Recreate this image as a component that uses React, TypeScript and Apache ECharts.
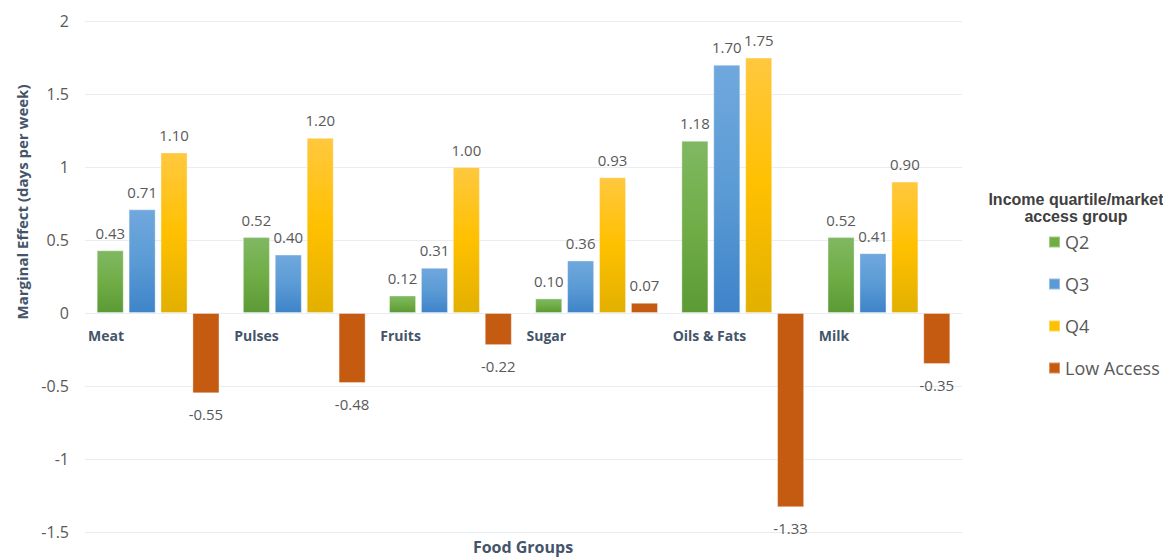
import React, { useEffect, useRef } from "react";
import * as echarts from "echarts";

const categories = ["Meat", "Pulses", "Fruits", "Sugar", "Oils & Fats", "Milk"];
const q2 = [0.43, 0.52, 0.12, 0.1, 1.18, 0.52];
const q3 = [0.71, 0.4, 0.31, 0.36, 1.7, 0.41];
const q4 = [1.1, 1.2, 1.0, 0.93, 1.75, 0.9];
const lowAccess = [-0.55, -0.48, -0.22, 0.07, -1.33, -0.35];

const seriesNames = ["Q2", "Q3", "Q4", "Low Access"];
const yMin = -1.5;
const yMax = 2;
const yStep = 0.5;

const FONT = "'Open Sans', 'Noto Sans', sans-serif";
const TITLE_COLOR = "#44546a";
const TEXT_COLOR = "#595959";

const grad = (top: string, mid: string, bottom: string) =>
  new echarts.graphic.LinearGradient(0, 0, 0, 1, [
    { offset: 0, color: top },
    { offset: 0.5, color: mid },
    { offset: 1, color: bottom },
  ]);

export default function App() {
  const ref = useRef<HTMLDivElement>(null);

  useEffect(() => {
    if (!ref.current) return;
    const chart = echarts.init(ref.current, undefined, { renderer: "svg" });

    const fills = [
      { fill: grad("#80b862", "#70ad47", "#5c9a36"), legend: "#70ad47" },
      { fill: grad("#70a8dd", "#5b9bd5", "#3f84c9"), legend: "#5b9bd5" },
      { fill: grad("#ffc83f", "#ffc000", "#e2b000"), legend: "#ffc000" },
      { fill: "#c55a11", legend: "#c55a11" },
    ];
    const groups = [q2, q3, q4, lowAccess];

    const series = groups.map((vals, si) => ({
      name: seriesNames[si],
      type: "bar",
      barGap: "18%",
      barCategoryGap: "16%",
      itemStyle: { color: fills[si].fill, borderColor: "rgba(255,255,255,0.35)", borderWidth: 1 },
      label: {
        show: true,
        fontFamily: FONT,
        fontSize: 15,
        color: TEXT_COLOR,
        formatter: (p: any) => Number(p.value).toFixed(2),
      },
      data: vals.map((v) => ({
        value: v,
        label: v < 0 ? { position: "bottom", distance: 13 } : { position: "top", distance: 10 },
      })),
    }));

    chart.setOption({
      animation: false,
      backgroundColor: "#ffffff",
      color: fills.map((f) => f.legend),
      grid: { left: 85, right: 201, top: 21, bottom: 27 },
      title: [
        {
          text: "Food Groups",
          left: 523,
          top: 538,
          textAlign: "center",
          textStyle: {
            fontFamily: FONT,
            fontSize: 16,
            fontWeight: "bold",
            color: TITLE_COLOR,
            lineHeight: 18,
          },
          padding: 0,
        },
        {
          text: "Income quartile/market\naccess group",
          left: 1071,
          top: 186,
          textAlign: "center",
          textStyle: {
            fontFamily: "'Liberation Sans', Arial, sans-serif",
            fontSize: 16,
            fontWeight: "bold",
            color: "#404040",
            lineHeight: 17,
          },
        },
      ],
      legend: {
        orient: "vertical",
        left: 1043,
        top: 226,
        itemGap: 20,
        itemWidth: 11,
        itemHeight: 11,
        icon: "rect",
        textStyle: { fontFamily: FONT, fontSize: 18, color: TEXT_COLOR, lineHeight: 22 },
        data: seriesNames.map((n, i) => ({ name: n, itemStyle: { color: fills[i].legend } })),
      },
      xAxis: {
        type: "category",
        data: categories,
        axisLine: { show: false },
        axisTick: { show: false },
        axisLabel: { show: false },
      },
      yAxis: {
        type: "value",
        min: yMin,
        max: yMax,
        interval: yStep,
        axisLine: { show: false },
        axisTick: { show: false },
        axisLabel: {
          fontFamily: FONT,
          fontSize: 16,
          color: TEXT_COLOR,
          margin: 16,
          formatter: (v: number) => String(v),
        },
        splitLine: { lineStyle: { color: "#e8ecf3", width: 1 } },
      },
      series,
    });

    // Category names sit just under the zero line, left-aligned to each band
    const c0 = chart.convertToPixel({ xAxisIndex: 0 }, 0) as number;
    const c1 = chart.convertToPixel({ xAxisIndex: 0 }, 1) as number;
    const band = c1 - c0;
    const zeroY = chart.convertToPixel({ yAxisIndex: 0 }, 0) as number;
    const catTexts = categories.map((name, i) => ({
      type: "text",
      x: c0 + band * i - band / 2 + 3,
      y: zeroY + 22,
      style: {
        text: name,
        font: `bold 14px ${FONT}`,
        fill: TITLE_COLOR,
        textAlign: "left",
        textVerticalAlign: "middle",
      },
    }));

    chart.setOption({
      graphic: [
        ...catTexts,
        {
          type: "text",
          x: 22,
          y: 202,
          rotation: Math.PI / 2,
          style: {
            text: "Marginal Effect (days per week)",
            font: `bold 15px ${FONT}`,
            fill: TITLE_COLOR,
            textAlign: "center",
            textVerticalAlign: "middle",
          },
        },
      ],
    });

    return () => chart.dispose();
  }, []);

  return (
    <div
      ref={ref}
      style={{ position: "absolute", left: 0, top: 0, width: 1163, height: 559 }}
    />
  );
}
